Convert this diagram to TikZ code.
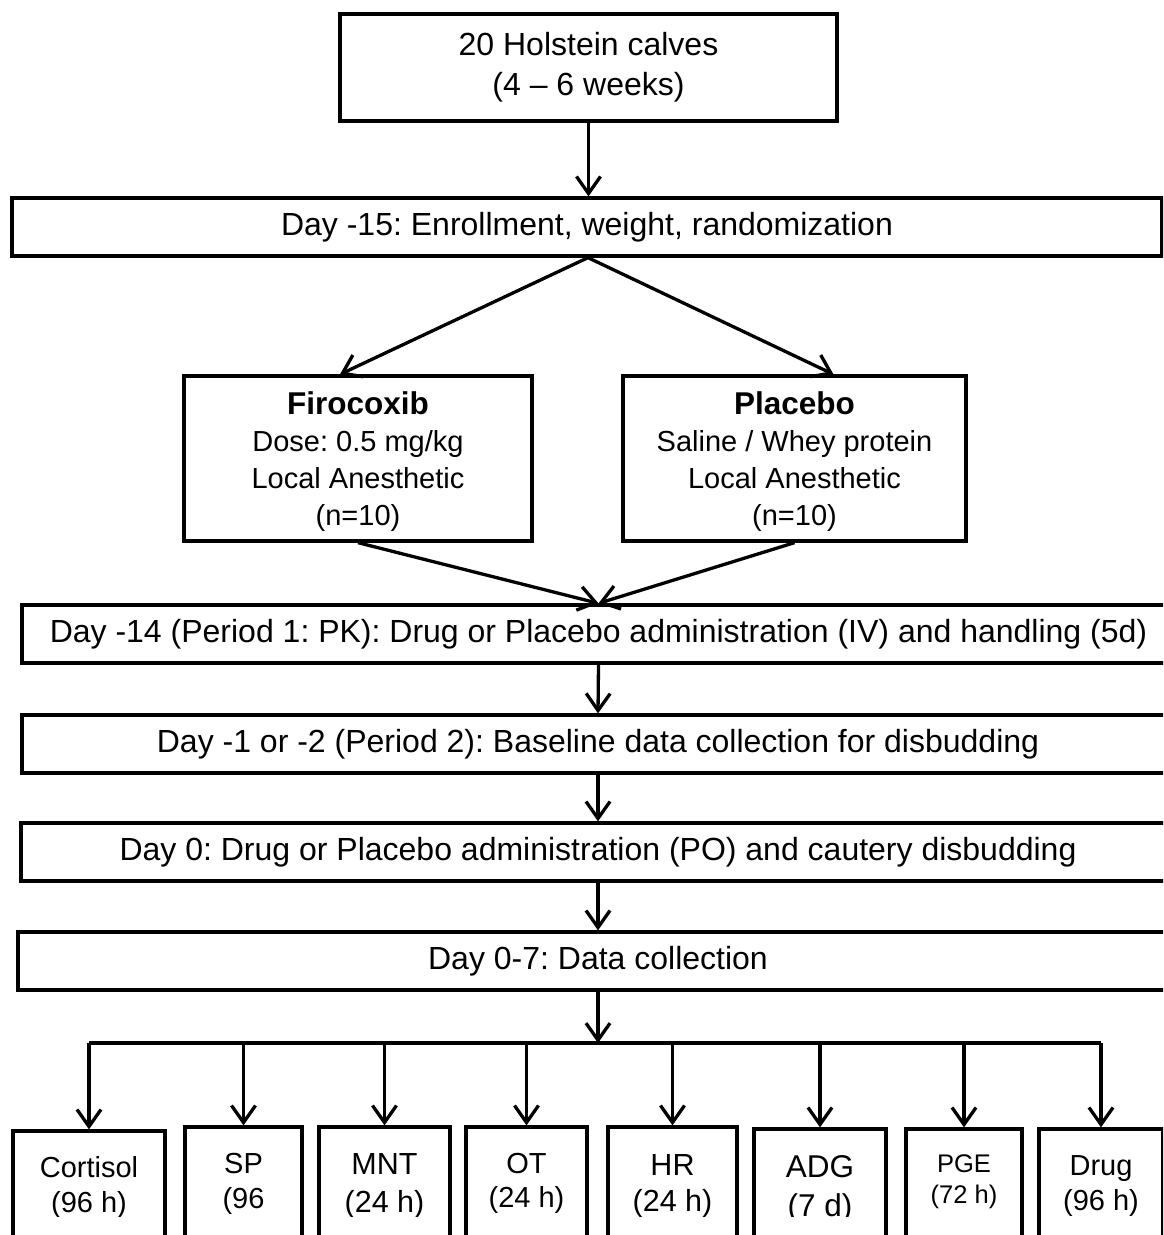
\documentclass[tikz,border=0pt]{standalone}
\usepackage{fontspec}
\setmainfont{Liberation Sans}
\frenchspacing
\usetikzlibrary{arrows.meta,calc}
\begin{document}
\begin{tikzpicture}[x=1pt,y=-1pt,
  box/.style={draw,line width=3.3pt,inner sep=0pt,rectangle},
  wire/.style={line width=3.3pt},
  arr/.style={line width=3.3pt,-{Straight Barb[length=17pt,width=24pt]}},
  tbig/.style={font=\fontsize{32}{40}\selectfont},
  tmid/.style={font=\fontsize{29}{37}\selectfont,align=center,inner sep=0pt},
  tlbl/.style={align=center,inner sep=0pt}
]
\useasboundingbox (0,0) rectangle (1163,1235);
\clip (0,0) rectangle (1163,1235);

% top
\node[box,tbig,align=center,minimum width=497pt,minimum height=107pt] (calves) at (588.5,67.5) {20 Holstein calves\\(4 – 6 weeks)};
\node[box,tbig,minimum width=1150pt,minimum height=58pt] (d15) at (587,227) {Day -15: Enrollment, weight, randomization};

\node[box,minimum width=348pt,minimum height=165pt] (firo) at (358,458.5) {};
\node[box,minimum width=343pt,minimum height=165pt] (plac) at (794.5,458.5) {};
\node[tmid] (firoT) at (358,462) {{\fontsize{31.5}{37}\selectfont\bfseries Firocoxib}\\Dose: 0.5 mg/kg\\Local Anesthetic\\(n=10)};
\node[tmid] (placT) at (794.5,462) {{\fontsize{31.5}{37}\selectfont\bfseries Placebo}\\Saline / Whey protein\\Local Anesthetic\\(n=10)};

\node[box,tbig,minimum width=1153pt,minimum height=58pt] (d14) at (598.5,634) {Day -14 (Period 1: PK): Drug or Placebo administration (IV) and handling (5d)};
\node[box,tbig,minimum width=1152pt,minimum height=58pt] (d1) at (598,744) {Day -1 or -2 (Period 2): Baseline data collection for disbudding};
\node[box,tbig,minimum width=1154pt,minimum height=58pt] (d0) at (598,852) {Day 0: Drug or Placebo administration (PO) and cautery disbudding};
\node[box,tbig,minimum width=1160pt,minimum height=58pt] (d07) at (598,961) {Day 0-7: Data collection};

\coordinate (br) at (598,1043);

% bottom boxes
\node[box,minimum width=152pt,minimum height=119pt] (cort) at (89,1190.5) {};
\node[box,minimum width=117pt,minimum height=123pt] (sp) at (243.5,1188.5) {};
\node[box,minimum width=131pt,minimum height=123pt] (mnt) at (384.5,1188.5) {};
\node[box,minimum width=121pt,minimum height=123pt] (ot) at (526.5,1188.5) {};
\node[box,minimum width=129pt,minimum height=123pt] (hr) at (672.5,1188.5) {};
\node[box,minimum width=132pt,minimum height=121pt] (adg) at (820,1189.5) {};
\node[box,minimum width=116pt,minimum height=121pt] (pge) at (964,1189.5) {};
\node[box,minimum width=124pt,minimum height=121pt] (drug) at (1101,1189.5) {};

\begin{scope}
\clip (0,0) rectangle (1163,1216);
\node[tlbl,font=\fontsize{29}{35}\selectfont] (cortT) at (89,1187) {Cortisol\\(96 h)};
\node[tlbl,font=\fontsize{29}{35}\selectfont] (spT) at (243.5,1184) {SP\\(96};
\node[tlbl,font=\fontsize{30.5}{38}\selectfont] (mntT) at (384.5,1186) {MNT\\(24 h)};
\node[tlbl,font=\fontsize{29}{34}\selectfont] (otT) at (526.5,1183) {OT\\(24 h)};
\node[tlbl,font=\fontsize{30.5}{36}\selectfont] (hrT) at (672.5,1186) {HR\\(24 h)};
\node[tlbl,font=\fontsize{31.5}{39}\selectfont] (adgT) at (820,1189) {ADG\\(7 d)};
\node[tlbl,font=\fontsize{25.5}{31}\selectfont] (pgeT) at (964,1182) {PGE\\(72 h)};
\node[tlbl,font=\fontsize{29}{35}\selectfont] (drugT) at (1101,1186) {Drug\\(96 h)};
\end{scope}

% connectors
\draw[arr] (calves.south) -- (calves.south |- d15.north);
\draw[arr] ($(d15.south)+(1,0)$) -- ($(firo.north)+(-18,0)$);
\draw[arr] ($(d15.south)+(1,0)$) -- ($(plac.north)+(39,0)$);
\draw[arr] (firo.south) -- (d14.north);
\draw[arr] (plac.south) -- (d14.north);
\draw[arr] (d14.south) -- (d1.north);
\draw[arr] (d1.south) -- (d0.north);
\draw[arr] (d0.south) -- (d07.north);
\draw[arr] (d07.south) -- (br);
\draw[wire] (cort.north |- br) -- (drug.north |- br);
\foreach \b in {cort,sp,mnt,ot,hr,adg,pge,drug}{
  \draw[arr] (\b.north |- br) -- (\b.north);
}
\end{tikzpicture}
\end{document}
